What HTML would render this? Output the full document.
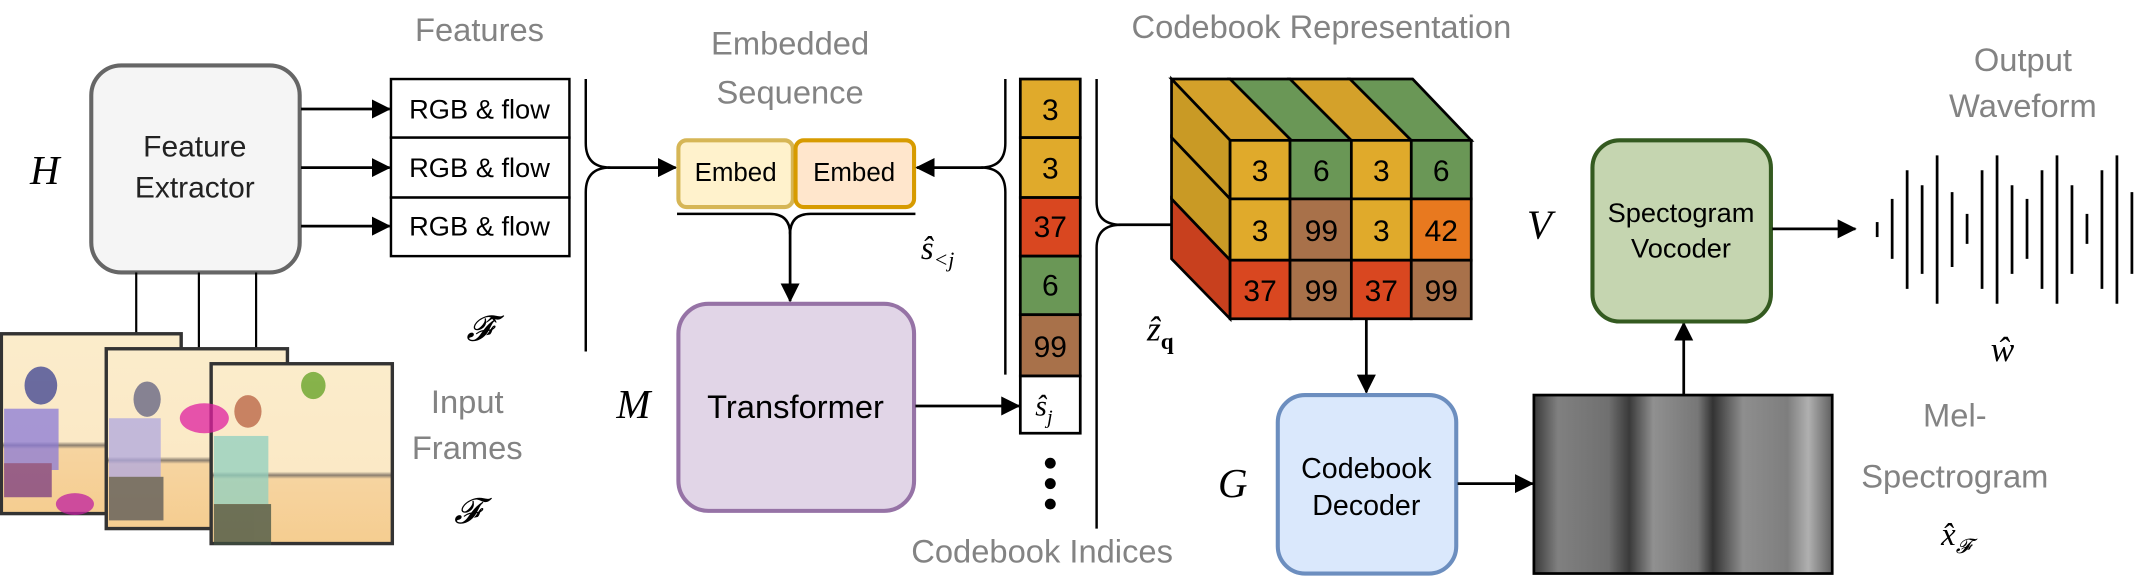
<!DOCTYPE html>
<html><head><meta charset="utf-8"><style>
html,body{margin:0;padding:0;background:#fff;}
svg{display:block;}
text{font-family:"Liberation Sans",sans-serif;}
.g{fill:#838383;font-size:24px;}
.m{font-family:"Liberation Serif",serif;font-style:italic;}
</style></head><body>
<svg width="2136" height="579" viewBox="0 0 1568 425" xmlns="http://www.w3.org/2000/svg">
<defs>
<marker id="ar2" markerWidth="14" markerHeight="14" refX="13" refY="7" orient="auto" markerUnits="userSpaceOnUse"><path d="M0,0 L14,7 L0,14 z" fill="#000"/></marker>
<linearGradient id="wall" x1="0" y1="0" x2="0" y2="1"><stop offset="0" stop-color="#fbeccb"/><stop offset="0.6" stop-color="#fbe9c6"/><stop offset="0.62" stop-color="#8c8070"/><stop offset="0.64" stop-color="#f6d4a0"/><stop offset="1" stop-color="#f5cd90"/></linearGradient>
<linearGradient id="spec" x1="0" y1="0" x2="1" y2="0">
<stop offset="0" stop-color="#3a3a3a"/><stop offset="0.08" stop-color="#808080"/><stop offset="0.25" stop-color="#707070"/><stop offset="0.32" stop-color="#3a3a3a"/><stop offset="0.4" stop-color="#909090"/><stop offset="0.55" stop-color="#777"/><stop offset="0.6" stop-color="#333"/><stop offset="0.7" stop-color="#8e8e8e"/><stop offset="0.85" stop-color="#7e7e7e"/><stop offset="0.92" stop-color="#b0b0b0"/><stop offset="1" stop-color="#606060"/></linearGradient>
</defs>

<text x="22" y="135" class="m" font-size="30">H</text>
<rect x="67" y="48" width="153" height="152" rx="22" fill="#f5f5f5" stroke="#666" stroke-width="3"/>
<text x="143" y="115" text-anchor="middle" font-size="22" fill="#222">Feature</text>
<text x="143" y="145" text-anchor="middle" font-size="22" fill="#222">Extractor</text>

<line x1="100" y1="200" x2="100" y2="245" stroke="#000" stroke-width="1.6"/>
<line x1="146" y1="200" x2="146" y2="256" stroke="#000" stroke-width="1.6"/>
<line x1="188" y1="200" x2="188" y2="267" stroke="#000" stroke-width="1.6"/>

<g stroke="#333" stroke-width="2.5">
<rect x="1" y="245" width="132" height="132" fill="url(#wall)"/>
<rect x="78" y="256" width="133" height="132" fill="url(#wall)"/>
<rect x="155" y="267" width="133" height="132" fill="url(#wall)"/>
</g>
<g opacity="0.75">
<ellipse cx="30" cy="283" rx="12" ry="14" fill="#3a4090"/>
<rect x="3" y="300" width="40" height="45" fill="#8a7ad8"/>
<rect x="3" y="340" width="35" height="25" fill="#7a3a80"/>
<ellipse cx="55" cy="370" rx="14" ry="8" fill="#c020a0"/>
<ellipse cx="108" cy="293" rx="10" ry="13" fill="#606080"/>
<rect x="80" y="307" width="38" height="45" fill="#b0a8e0"/>
<ellipse cx="150" cy="307" rx="18" ry="11" fill="#e020a0"/>
<rect x="80" y="350" width="40" height="32" fill="#555"/>
<ellipse cx="182" cy="302" rx="10" ry="12" fill="#b86040"/>
<rect x="157" y="320" width="40" height="50" fill="#90d0c0"/>
<rect x="157" y="370" width="42" height="30" fill="#405040"/>
<ellipse cx="230" cy="283" rx="9" ry="10" fill="#60a020"/>
</g>
<text x="343" y="303" class="g" text-anchor="middle">Input</text>
<text x="343" y="337" class="g" text-anchor="middle">Frames</text>
<text x="343" y="384" class="m" font-size="26" text-anchor="middle">𝓕</text>

<text x="352" y="30" class="g" text-anchor="middle">Features</text>
<g stroke="#000" stroke-width="1.8" fill="#fff">
<rect x="287" y="58" width="131" height="43"/>
<rect x="287" y="101" width="131" height="44"/>
<rect x="287" y="145" width="131" height="43"/>
</g>
<g font-size="20" fill="#000" text-anchor="middle">
<text x="352" y="87">RGB &amp; flow</text>
<text x="352" y="130">RGB &amp; flow</text>
<text x="352" y="173">RGB &amp; flow</text>
</g>
<g stroke="#000" stroke-width="2" marker-end="url(#ar2)">
<line x1="221" y1="80" x2="286" y2="80"/>
<line x1="221" y1="123" x2="286" y2="123"/>
<line x1="221" y1="166" x2="286" y2="166"/>
</g>
<text x="352" y="250" class="m" font-size="26" text-anchor="middle">𝓕̂</text>
<path d="M430,58 V105 Q430,123 448,123 Q430,123 430,141 V258" fill="none" stroke="#000" stroke-width="1.8"/>
<line x1="446" y1="123" x2="496" y2="123" stroke="#000" stroke-width="2" marker-end="url(#ar2)"/>

<text x="580" y="40" class="g" text-anchor="middle">Embedded</text>
<text x="580" y="76" class="g" text-anchor="middle">Sequence</text>
<rect x="498" y="103" width="84" height="49" rx="6" fill="#fff2cc" stroke="#d6b656" stroke-width="3"/>
<rect x="584" y="103" width="87" height="49" rx="6" fill="#ffe6cc" stroke="#d79b00" stroke-width="3"/>
<text x="540" y="133" text-anchor="middle" font-size="19">Embed</text>
<text x="627" y="133" text-anchor="middle" font-size="19">Embed</text>
<path d="M497,157 H565 Q580,157 580,172 Q580,157 595,157 H672" fill="none" stroke="#000" stroke-width="1.8"/>
<line x1="580" y1="170" x2="580" y2="221" stroke="#000" stroke-width="2" marker-end="url(#ar2)"/>

<text x="465" y="307" class="m" font-size="30" text-anchor="middle">M</text>
<rect x="498" y="223" width="173" height="152" rx="22" fill="#e1d5e7" stroke="#9673a6" stroke-width="3"/>
<text x="584" y="307" text-anchor="middle" font-size="24">Transformer</text>
<line x1="672" y1="298" x2="748" y2="298" stroke="#000" stroke-width="2" marker-end="url(#ar2)"/>
<text x="676" y="190" class="m" font-size="24">ŝ<tspan font-size="16" dy="6">&lt;j</tspan></text>

<path d="M738,58 V105 Q738,123 720,123 Q738,123 738,141 V275" fill="none" stroke="#000" stroke-width="1.8"/>
<line x1="722" y1="123" x2="673" y2="123" stroke="#000" stroke-width="2" marker-end="url(#ar2)"/>
<g stroke="#000" stroke-width="2">
<rect x="749" y="58" width="44" height="43" fill="#e0aa2b"/>
<rect x="749" y="101" width="44" height="44" fill="#e0aa2b"/>
<rect x="749" y="145" width="44" height="43" fill="#d94720"/>
<rect x="749" y="188" width="44" height="43" fill="#6a9756"/>
<rect x="749" y="231" width="44" height="45" fill="#a8714a"/>
<rect x="749" y="276" width="44" height="42" fill="#fff"/>
</g>
<g font-size="22" text-anchor="middle">
<text x="771" y="88">3</text><text x="771" y="131">3</text><text x="771" y="174">37</text><text x="771" y="217">6</text><text x="771" y="262">99</text>
</g>
<text x="760" y="305" class="m" font-size="22">ŝ<tspan font-size="15" dy="6">j</tspan></text>
<circle cx="771" cy="340" r="4"/><circle cx="771" cy="355" r="4"/><circle cx="771" cy="370" r="4"/>
<path d="M805,58 V148 Q805,165 823,165 Q805,165 805,182 V388" fill="none" stroke="#000" stroke-width="1.8"/>
<line x1="821" y1="165" x2="860" y2="165" stroke="#000" stroke-width="2"/>
<text x="765" y="413" class="g" text-anchor="middle">Codebook Indices</text>

<text x="970" y="28" class="g" text-anchor="middle">Codebook Representation</text>
<g stroke="#000" stroke-width="2">
<polygon points="860,58 903,58 948,103 903,103" fill="#d4a12a"/>
<polygon points="903,58 947,58 992,103 948,103" fill="#6a9756"/>
<polygon points="947,58 991,58 1036,103 992,103" fill="#d4a12a"/>
<polygon points="991,58 1037,58 1080,103 1036,103" fill="#6a9756"/>
<polygon points="860,58 903,103 903,146 860,101" fill="#c99a25"/>
<polygon points="860,101 903,146 903,191 860,146" fill="#c99a25"/>
<polygon points="860,146 903,191 903,234 860,190" fill="#c8401e"/>
</g>
<g stroke="#000" stroke-width="2">
<rect x="903" y="103" width="44" height="43" fill="#e0aa2b"/><rect x="947" y="103" width="45" height="43" fill="#6a9756"/><rect x="992" y="103" width="44" height="43" fill="#e0aa2b"/><rect x="1036" y="103" width="44" height="43" fill="#6a9756"/>
<rect x="903" y="146" width="44" height="45" fill="#e0aa2b"/><rect x="947" y="146" width="45" height="45" fill="#a8714a"/><rect x="992" y="146" width="44" height="45" fill="#e0aa2b"/><rect x="1036" y="146" width="44" height="45" fill="#e8791f"/>
<rect x="903" y="191" width="44" height="43" fill="#d94720"/><rect x="947" y="191" width="45" height="43" fill="#a8714a"/><rect x="992" y="191" width="44" height="43" fill="#d94720"/><rect x="1036" y="191" width="44" height="43" fill="#a8714a"/>
</g>
<g font-size="22" text-anchor="middle">
<text x="925" y="133">3</text><text x="970" y="133">6</text><text x="1014" y="133">3</text><text x="1058" y="133">6</text>
<text x="925" y="177">3</text><text x="970" y="177">99</text><text x="1014" y="177">3</text><text x="1058" y="177">42</text>
<text x="925" y="221">37</text><text x="970" y="221">99</text><text x="1014" y="221">37</text><text x="1058" y="221">99</text>
</g>
<text x="842" y="250" class="m" font-size="26">ẑ<tspan font-size="17" dy="6" font-style="normal" font-weight="bold">q</tspan></text>
<line x1="1003" y1="234" x2="1003" y2="288" stroke="#000" stroke-width="2" marker-end="url(#ar2)"/>

<text x="905" y="365" class="m" font-size="30" text-anchor="middle">G</text>
<rect x="938" y="290" width="131" height="131" rx="20" fill="#dae8fc" stroke="#6c8ebf" stroke-width="3"/>
<text x="1003" y="351" text-anchor="middle" font-size="21">Codebook</text>
<text x="1003" y="378" text-anchor="middle" font-size="21">Decoder</text>
<line x1="1070" y1="355" x2="1125" y2="355" stroke="#000" stroke-width="2" marker-end="url(#ar2)"/>

<rect x="1126" y="290" width="219" height="131" fill="url(#spec)" stroke="#000" stroke-width="2"/>
<line x1="1236" y1="290" x2="1236" y2="237" stroke="#000" stroke-width="2" marker-end="url(#ar2)"/>
<text x="1435" y="313" class="g" text-anchor="middle">Mel-</text>
<text x="1435" y="358" class="g" text-anchor="middle">Spectrogram</text>
<text x="1425" y="400" class="m" font-size="24">x̂<tspan font-size="15" dy="6">𝓕</tspan></text>

<text x="1130" y="175" class="m" font-size="30" text-anchor="middle">V</text>
<rect x="1169" y="103" width="131" height="133" rx="20" fill="#c5d5b0" stroke="#345a20" stroke-width="3"/>
<text x="1234" y="163" text-anchor="middle" font-size="20">Spectogram</text>
<text x="1234" y="189" text-anchor="middle" font-size="20">Vocoder</text>
<line x1="1301" y1="168" x2="1362" y2="168" stroke="#000" stroke-width="2" marker-end="url(#ar2)"/>

<text x="1485" y="52" class="g" text-anchor="middle">Output</text>
<text x="1485" y="86" class="g" text-anchor="middle">Waveform</text>
<g stroke="#000" stroke-width="2">
<line x1="1378" y1="163" x2="1378" y2="174"/>
<line x1="1389" y1="146" x2="1389" y2="190"/>
<line x1="1400" y1="125" x2="1400" y2="212"/>
<line x1="1411" y1="136" x2="1411" y2="201"/>
<line x1="1422" y1="114" x2="1422" y2="223"/>
<line x1="1433" y1="141" x2="1433" y2="196"/>
<line x1="1444" y1="157" x2="1444" y2="179"/>
<line x1="1455" y1="125" x2="1455" y2="212"/>
<line x1="1466" y1="114" x2="1466" y2="223"/>
<line x1="1477" y1="136" x2="1477" y2="201"/>
<line x1="1488" y1="146" x2="1488" y2="190"/>
<line x1="1499" y1="125" x2="1499" y2="212"/>
<line x1="1510" y1="114" x2="1510" y2="223"/>
<line x1="1521" y1="136" x2="1521" y2="201"/>
<line x1="1532" y1="157" x2="1532" y2="179"/>
<line x1="1543" y1="125" x2="1543" y2="212"/>
<line x1="1554" y1="114" x2="1554" y2="223"/>
<line x1="1565" y1="141" x2="1565" y2="201"/>
</g>
<text x="1470" y="265" class="m" font-size="26" text-anchor="middle">ŵ</text>
</svg>
</body></html>
